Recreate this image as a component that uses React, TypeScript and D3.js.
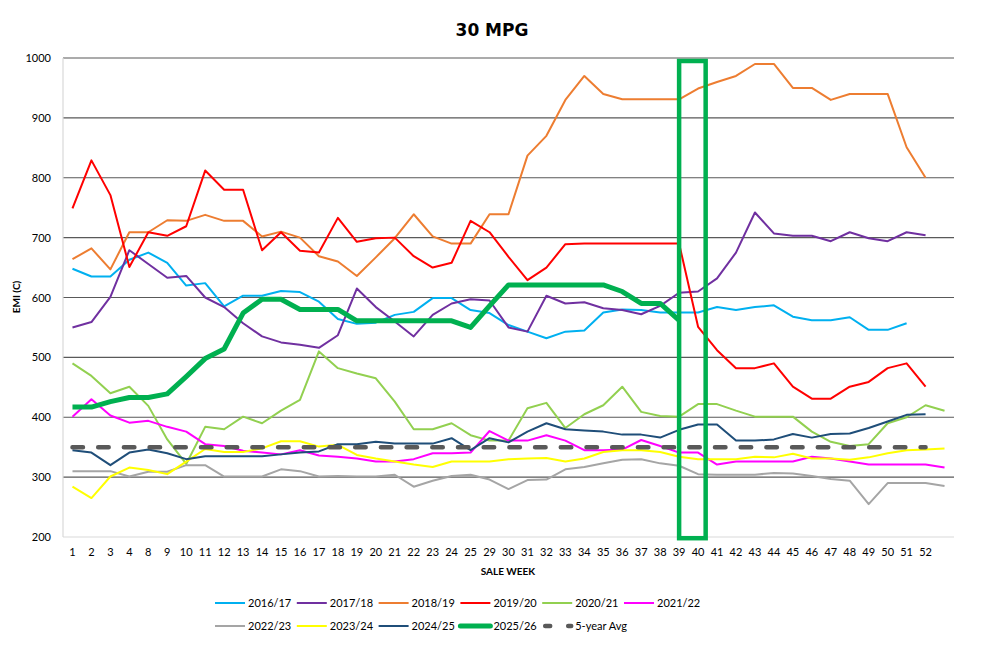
import React from "react";
import * as d3 from "d3";

const weeks = ["1","2","3","4","8","9","10","11","12","13","14","15","16","17","18","19","20","21","22","23","24","25","29","30","31","32","33","34","35","36","37","38","39","40","41","42","43","44","45","46","47","48","49","50","51","52",""];

const yTicks = [200, 300, 400, 500, 600, 700, 800, 900, 1000];

const s1617 = [648,635,635,663, 675,658,620,624,585,603,603,611,609,593,564,556,558,571,576,599,599,579, 574,554,543,532,543,545,575,580,579,575,575,575,584,579,584,587,568,562,562,567,546,546,557,null, null];
const s1718 = [550,559,601,679, 656,633,636,600,584,557,535,525,521,516,537,615,584,560,535,571,590,597, 595,550,543,603,590,592,582,579,572,586,608,610,632,675,742,707,703,703,694,709,699,694,709,704, null];
const s1819 = [664,682,647,709, 709,729,728,738,728,728,702,710,700,669,660,636,667,699,739,702,690,690, 739,739,837,870,930,970,940,931,931,931,931,949,960,970,990,990,950,950,930,940,940,940,851,800, null];
const s1920 = [749,829,771,651, 709,703,719,812,780,780,679,709,678,675,733,693,699,700,669,650,658,728, 709,668,629,650,689,690,690,690,690,690,690,551,512,482,482,490,451,431,431,451,459,482,490,451, null];
const s2021 = [490,469,440,451, 419,363,322,384,380,401,390,411,429,510,482,473,465,426,380,380,390,370, 361,361,415,424,382,405,420,451,409,402,401,422,422,411,401,401,401,376,359,352,355,390,400,420, 411];
const s2122 = [401,430,403,391, 394,384,376,355,352,344,341,338,345,336,334,331,326,326,330,340,340,341, 377,361,361,370,361,345,345,346,362,352,341,341,321,326,326,326,326,334,331,326,321,321,321,321, 316];
const s2223 = [310,310,310,301, 309,309,320,320,301,301,301,313,310,301,302,301,301,304,284,294,302,304, 296,280,295,296,313,317,323,329,330,323,319,305,304,304,304,307,306,302,297,294,255,290,290,290, 285];
const s2324 = [284,265,301,316, 312,305,326,347,342,342,348,360,360,351,354,337,331,326,321,317,326,326, 326,330,331,332,326,331,342,345,345,342,334,330,330,330,334,333,339,331,331,329,333,340,345,346, 348];
const s2425 = [345,341,320,341, 346,340,330,335,335,335,335,338,341,343,355,355,359,356,356,356,365,345, 365,358,376,390,380,378,376,371,371,366,379,388,388,361,361,363,372,366,372,373,382,393,404,405, null];
const s2526 = [417,417,426,433, 433,439,468,498,514,574,597,597,580,580,580,561,561,561,561,561,561,550, 586,621,621,621,621,621,621,610,590,590,562, null,null,null,null,null,null,null,null,null,null,null,null,null,null];
const avg5 = [350,350,350,350, 350,350,350,350,350,350,350,350,350,350,350,350,350,350,350,350,350,350, 350,350,350,350,350,350,350,350,350,350,350,350,350,350,350,350,350,350,350,350,350,350,350,350, null];

const seriesNames = ["2016/17","2017/18","2018/19","2019/20","2020/21","2021/22","2022/23","2023/24","2024/25","2025/26","5-year Avg"];
const seriesValues = [s1617, s1718, s1819, s1920, s2021, s2122, s2223, s2324, s2425, s2526, avg5];
const seriesColors = ["#00B0F0","#7030A0","#ED7D31","#FF0000","#92D050","#FF00FF","#A5A5A5","#FFFF00","#1F4E79","#00B050","#595959"];

const highlightWeeks = ["39", "40"];

const W = 987, H = 648;
const left = 63, right = 954, top = 58, bottom = 537;
const font = "Lato, 'Open Sans', 'DejaVu Sans', sans-serif";

export default function App() {
  const x = d3.scaleBand<string>().domain(weeks).range([left, right]);
  const y = d3.scaleLinear().domain([200, 1000]).range([bottom, top]);
  const cx = (w: string) => (x(w) as number) + x.bandwidth() / 2;

  const line = d3.line<number | null>()
    .defined((d) => d != null)
    .x((_, i) => cx(weeks[i]))
    .y((d) => y(d as number));

  const widthFor = (i: number) => (i === 9 ? 5 : i === 10 ? 4.5 : 2);

  const legendX0 = 215, legendDX = 81.8;
  const legendItems = seriesNames.map((n, i) => ({
    n, i,
    lx: legendX0 + (i % 6) * legendDX,
    ly: i < 6 ? 603 : 626,
  }));

  const boxL = cx(highlightWeeks[0]);
  const boxR = cx(highlightWeeks[1]) + x.bandwidth() * 0.4;
  const boxT = y(995);
  const boxB = y(198);

  return (
    <svg width={W} height={H} style={{ position: "absolute", left: 0, top: 0, background: "#fff" }} fontFamily={font}>
      <rect x={0} y={0} width={W} height={H} fill="#fff" />
      <text x={492} y={36} textAnchor="middle" fontFamily="'DejaVu Sans', sans-serif" fontWeight="bold" fontSize={17} fill="#000">30 MPG</text>

      {/* gridlines */}
      {yTicks.filter((t) => t > 200).map((t) => (
        <line key={t} x1={left} x2={right} y1={y(t)} y2={y(t)} stroke="#595959" strokeWidth={1.2} />
      ))}
      <line x1={left} x2={right} y1={bottom} y2={bottom} stroke="#D9D9D9" strokeWidth={1.2} />
      <line x1={left} x2={left} y1={top} y2={bottom} stroke="#D9D9D9" strokeWidth={1.2} />

      {/* y tick labels */}
      {yTicks.map((t) => (
        <text key={t} x={51} y={y(t) + 4} textAnchor="end" fontSize={11} fill="#000">{t}</text>
      ))}
      <text transform={`translate(20, 297) rotate(-90)`} textAnchor="middle" fontSize={10} fontWeight="bold" fill="#000">EMI (C)</text>

      {/* x tick labels */}
      {weeks.map((w) => (
        <text key={"w" + w} x={cx(w)} y={556} textAnchor="middle" fontSize={11} fill="#000">{w}</text>
      ))}
      <text x={508} y={575} textAnchor="middle" fontSize={10} fontWeight="bold" fill="#000">SALE WEEK</text>

      {/* series */}
      {seriesValues.map((vals, i) => (
        <path
          key={seriesNames[i]}
          d={line(vals) || ""}
          fill="none"
          stroke={seriesColors[i]}
          strokeWidth={widthFor(i)}
          strokeLinejoin="round"
          strokeLinecap={i === 10 ? "round" : "butt"}
          strokeDasharray={i === 10 ? "10.5 15.2" : undefined}
        />
      ))}

      {/* highlight box */}
      <rect x={boxL} y={boxT} width={boxR - boxL} height={boxB - boxT} fill="none" stroke="#00B050" strokeWidth={4.5} />

      {/* legend */}
      {legendItems.map(({ n, i, lx, ly }) => (
        <g key={"lg" + n}>
          {i === 10 ? (
            <line x1={lx + 3} x2={lx + 29} y1={ly} y2={ly} stroke={seriesColors[i]} strokeWidth={4.5} strokeLinecap="round" strokeDasharray="5 18" />
          ) : (
            <line x1={lx} x2={lx + 30} y1={ly} y2={ly} stroke={seriesColors[i]} strokeWidth={widthFor(i)} strokeLinecap={i === 9 ? "round" : "butt"} />
          )}
          <text x={lx + 33} y={ly + 4} fontSize={11} fill="#000">{n}</text>
        </g>
      ))}
    </svg>
  );
}
